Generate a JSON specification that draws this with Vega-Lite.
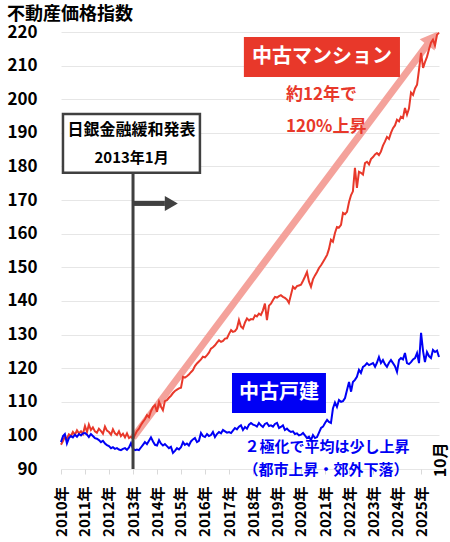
{
  "$schema": "https://vega.github.io/schema/vega-lite/v6.json",
  "width": 378,
  "height": 437,
  "autosize": "none",
  "padding": {"left": 61, "top": 32, "right": 11, "bottom": 73},
  "background": "white",
  "config": {"view": {"stroke": null}, "font": "Noto Sans CJK JP"},
  "title": {"text": "不動産価格指数", "anchor": "start", "frame": "group", "dx": -54, "offset": 0, "dy": 1, "fontSize": 18, "font": "Noto Sans CJK JP", "fontWeight": "bold", "color": "#000000"},
  "data": {"values": [
    {"d":"2010-01","m":97.2,"h":98.0},{"d":"2010-02","m":98.4,"h":99.8},{"d":"2010-03","m":99.6,"h":100.4},{"d":"2010-04","m":99.0,"h":97.6},{"d":"2010-05","m":100.3,"h":99.2},{"d":"2010-06","m":99.8,"h":99.8},{"d":"2010-07","m":101.0,"h":99.4},{"d":"2010-08","m":100.2,"h":100.2},{"d":"2010-09","m":101.5,"h":99.6},{"d":"2010-10","m":100.6,"h":100.4},{"d":"2010-11","m":101.2,"h":100.0},{"d":"2010-12","m":100.4,"h":100.6},
    {"d":"2011-01","m":102.8,"h":100.7},{"d":"2011-02","m":101.0,"h":100.2},{"d":"2011-03","m":103.2,"h":99.5},{"d":"2011-04","m":101.6,"h":100.4},{"d":"2011-05","m":102.4,"h":99.8},{"d":"2011-06","m":101.2,"h":99.2},{"d":"2011-07","m":100.8,"h":99.0},{"d":"2011-08","m":102.0,"h":98.6},{"d":"2011-09","m":101.3,"h":98.0},{"d":"2011-10","m":100.5,"h":98.4},{"d":"2011-11","m":102.6,"h":97.6},{"d":"2011-12","m":101.4,"h":97.1},
    {"d":"2012-01","m":101.0,"h":96.8},{"d":"2012-02","m":100.2,"h":96.2},{"d":"2012-03","m":101.8,"h":96.5},{"d":"2012-04","m":100.6,"h":96.0},{"d":"2012-05","m":100.1,"h":96.2},{"d":"2012-06","m":101.2,"h":95.8},{"d":"2012-07","m":99.8,"h":95.6},{"d":"2012-08","m":100.5,"h":96.0},{"d":"2012-09","m":99.4,"h":96.2},{"d":"2012-10","m":100.6,"h":95.7},{"d":"2012-11","m":99.2,"h":96.4},{"d":"2012-12","m":99.6,"h":97.7},
    {"d":"2013-01","m":99.0,"h":96.0},{"d":"2013-02","m":100.2,"h":95.6},{"d":"2013-03","m":101.3,"h":95.8},{"d":"2013-04","m":102.0,"h":95.6},{"d":"2013-05","m":103.1,"h":96.4},{"d":"2013-06","m":104.0,"h":97.2},{"d":"2013-07","m":104.8,"h":98.0},{"d":"2013-08","m":106.0,"h":97.4},{"d":"2013-09","m":105.4,"h":98.4},{"d":"2013-10","m":107.2,"h":99.4},{"d":"2013-11","m":108.4,"h":98.2},{"d":"2013-12","m":109.0,"h":97.2},
    {"d":"2014-01","m":107.0,"h":97.0},{"d":"2014-02","m":110.0,"h":98.6},{"d":"2014-03","m":108.6,"h":97.6},{"d":"2014-04","m":107.5,"h":97.0},{"d":"2014-05","m":110.2,"h":97.4},{"d":"2014-06","m":110.5,"h":96.8},{"d":"2014-07","m":111.2,"h":96.2},{"d":"2014-08","m":111.8,"h":96.6},{"d":"2014-09","m":112.6,"h":94.8},{"d":"2014-10","m":113.2,"h":95.4},{"d":"2014-11","m":113.6,"h":96.2},{"d":"2014-12","m":114.0,"h":95.8},
    {"d":"2015-01","m":114.2,"h":96.5},{"d":"2015-02","m":117.4,"h":98.0},{"d":"2015-03","m":117.2,"h":97.2},{"d":"2015-04","m":117.6,"h":97.6},{"d":"2015-05","m":118.1,"h":97.0},{"d":"2015-06","m":118.8,"h":98.2},{"d":"2015-07","m":119.4,"h":98.8},{"d":"2015-08","m":120.6,"h":99.2},{"d":"2015-09","m":121.4,"h":98.0},{"d":"2015-10","m":122.0,"h":98.4},{"d":"2015-11","m":122.6,"h":100.7},{"d":"2015-12","m":123.4,"h":99.8},
    {"d":"2016-01","m":123.2,"h":99.5},{"d":"2016-02","m":123.9,"h":100.4},{"d":"2016-03","m":124.6,"h":99.8},{"d":"2016-04","m":125.8,"h":100.1},{"d":"2016-05","m":126.2,"h":101.0},{"d":"2016-06","m":126.8,"h":99.5},{"d":"2016-07","m":127.6,"h":100.4},{"d":"2016-08","m":128.3,"h":101.0},{"d":"2016-09","m":127.8,"h":100.6},{"d":"2016-10","m":128.1,"h":101.6},{"d":"2016-11","m":128.8,"h":101.2},{"d":"2016-12","m":128.9,"h":100.8},
    {"d":"2017-01","m":130.2,"h":101.0},{"d":"2017-02","m":131.3,"h":100.7},{"d":"2017-03","m":130.8,"h":101.4},{"d":"2017-04","m":131.0,"h":102.2},{"d":"2017-05","m":131.8,"h":101.8},{"d":"2017-06","m":134.3,"h":102.6},{"d":"2017-07","m":132.4,"h":103.0},{"d":"2017-08","m":131.8,"h":101.6},{"d":"2017-09","m":133.6,"h":102.5},{"d":"2017-10","m":134.8,"h":102.0},{"d":"2017-11","m":134.2,"h":103.2},{"d":"2017-12","m":134.6,"h":103.7},
    {"d":"2018-01","m":134.5,"h":103.2},{"d":"2018-02","m":135.7,"h":103.0},{"d":"2018-03","m":135.4,"h":102.6},{"d":"2018-04","m":136.2,"h":103.7},{"d":"2018-05","m":135.8,"h":103.0},{"d":"2018-06","m":137.2,"h":102.5},{"d":"2018-07","m":139.2,"h":103.4},{"d":"2018-08","m":134.3,"h":103.7},{"d":"2018-09","m":138.6,"h":102.8},{"d":"2018-10","m":139.2,"h":103.0},{"d":"2018-11","m":140.3,"h":102.6},{"d":"2018-12","m":141.2,"h":103.4},
    {"d":"2019-01","m":141.0,"h":103.7},{"d":"2019-02","m":141.4,"h":102.2},{"d":"2019-03","m":141.7,"h":102.5},{"d":"2019-04","m":141.2,"h":103.0},{"d":"2019-05","m":140.9,"h":101.6},{"d":"2019-06","m":140.4,"h":102.0},{"d":"2019-07","m":139.4,"h":101.4},{"d":"2019-08","m":141.8,"h":101.0},{"d":"2019-09","m":144.2,"h":101.2},{"d":"2019-10","m":143.6,"h":100.4},{"d":"2019-11","m":144.4,"h":100.6},{"d":"2019-12","m":144.6,"h":100.0},
    {"d":"2020-01","m":144.8,"h":100.2},{"d":"2020-02","m":146.0,"h":100.7},{"d":"2020-03","m":147.2,"h":100.0},{"d":"2020-04","m":148.6,"h":99.2},{"d":"2020-05","m":145.8,"h":99.6},{"d":"2020-06","m":144.2,"h":98.6},{"d":"2020-07","m":146.4,"h":100.1},{"d":"2020-08","m":147.6,"h":99.2},{"d":"2020-09","m":148.6,"h":99.5},{"d":"2020-10","m":149.8,"h":100.8},{"d":"2020-11","m":150.6,"h":102.2},{"d":"2020-12","m":151.6,"h":102.6},
    {"d":"2021-01","m":152.6,"h":103.7},{"d":"2021-02","m":153.7,"h":104.6},{"d":"2021-03","m":155.4,"h":104.0},{"d":"2021-04","m":158.2,"h":103.7},{"d":"2021-05","m":157.6,"h":108.0},{"d":"2021-06","m":160.2,"h":109.8},{"d":"2021-07","m":162.0,"h":108.5},{"d":"2021-08","m":161.8,"h":110.5},{"d":"2021-09","m":162.6,"h":110.0},{"d":"2021-10","m":166.2,"h":110.2},{"d":"2021-11","m":165.8,"h":111.1},{"d":"2021-12","m":166.5,"h":113.5},
    {"d":"2022-01","m":169.4,"h":115.9},{"d":"2022-02","m":171.5,"h":113.0},{"d":"2022-03","m":172.6,"h":115.9},{"d":"2022-04","m":179.6,"h":116.5},{"d":"2022-05","m":173.6,"h":117.4},{"d":"2022-06","m":178.4,"h":119.5},{"d":"2022-07","m":178.1,"h":118.6},{"d":"2022-08","m":177.6,"h":120.4},{"d":"2022-09","m":181.0,"h":120.8},{"d":"2022-10","m":181.4,"h":121.5},{"d":"2022-11","m":180.6,"h":120.9},{"d":"2022-12","m":182.2,"h":121.2},
    {"d":"2023-01","m":182.8,"h":121.5},{"d":"2023-02","m":183.6,"h":120.4},{"d":"2023-03","m":184.0,"h":121.6},{"d":"2023-04","m":183.4,"h":123.3},{"d":"2023-05","m":184.4,"h":121.5},{"d":"2023-06","m":186.2,"h":122.4},{"d":"2023-07","m":187.4,"h":121.2},{"d":"2023-08","m":188.8,"h":120.4},{"d":"2023-09","m":188.2,"h":121.6},{"d":"2023-10","m":190.0,"h":122.4},{"d":"2023-11","m":191.4,"h":121.5},{"d":"2023-12","m":192.2,"h":120.6},
    {"d":"2024-01","m":193.9,"h":118.9},{"d":"2024-02","m":193.4,"h":122.4},{"d":"2024-03","m":194.8,"h":123.0},{"d":"2024-04","m":194.4,"h":122.6},{"d":"2024-05","m":197.4,"h":124.5},{"d":"2024-06","m":195.4,"h":121.5},{"d":"2024-07","m":197.2,"h":121.2},{"d":"2024-08","m":202.0,"h":121.8},{"d":"2024-09","m":201.3,"h":122.6},{"d":"2024-10","m":203.2,"h":123.0},{"d":"2024-11","m":204.3,"h":124.5},{"d":"2024-12","m":208.8,"h":121.5},
    {"d":"2025-01","m":213.8,"h":130.5},{"d":"2025-02","m":209.3,"h":125.0},{"d":"2025-03","m":211.0,"h":121.8},{"d":"2025-04","m":212.6,"h":124.8},{"d":"2025-05","m":214.8,"h":123.6},{"d":"2025-06","m":216.8,"h":123.0},{"d":"2025-07","m":217.7,"h":125.4},{"d":"2025-08","m":216.0,"h":124.8},{"d":"2025-09","m":219.2,"h":125.2},{"d":"2025-10","m":219.8,"h":123.3}
  ]},
  "encoding": {
    "x": {
      "field": "d", "type": "temporal",
      "scale": {"type": "utc", "domain": [{"year": 2010, "month": 1, "date": 1, "utc": true}, {"year": 2025, "month": 10, "date": 1, "utc": true}]},
      "axis": {
        "title": null, "tickCount": {"interval": "year", "step": 1},
        "labelExpr": "utcFormat(datum.value, '%Y') + '年'",
        "labelAngle": 270, "labelFontSize": 15, "labelFontWeight": "bold", "labelColor": "#000000",
        "labelFont": "Noto Sans CJK JP", "labelPadding": 12, "tickSize": 5, "tickColor": "#D9D9D9",
        "domain": false, "grid": false, "labelOverlap": false, "labelFlush": false
      }
    },
    "y": {
      "field": "v", "type": "quantitative",
      "scale": {"domain": [90, 220], "nice": false, "zero": false},
      "axis": {"title": null, "values": [90,100,110,120,130,140,150,160,170,180,190,200,210,220], "domain": false, "ticks": false,
        "labelOverlap": false, "labelFlush": false, "labelSeparation": 0,
        "labelFontSize": 17, "labelFontWeight": "bold", "labelColor": "#000000", "labelFont": "Noto Sans CJK JP", "labelPadding": 24,
        "gridColor": "#E6E6E6", "gridWidth": 1}
    }
  },
  "layer": [
    {
      "data": {"values": [{"d": "2013-01-01", "v": 99.3}, {"d": "2025-06-17", "v": 218.1}]},
      "mark": {"type": "line", "color": "#F4A29B", "strokeWidth": 7, "strokeCap": "butt"}
    },
    {
      "data": {"values": [{"d": "2025-06-17", "v": 218.1}]},
      "mark": {"type": "point", "shape": "triangle-up", "angle": 37, "size": 350, "filled": true, "opacity": 1, "color": "#F4A29B"}
    },
    {
      "transform": [{"fold": ["m", "h"], "as": ["s", "v"]}],
      "mark": {"type": "line", "strokeWidth": 2},
      "encoding": {"color": {"field": "s", "type": "nominal", "scale": {"domain": ["m", "h"], "range": ["#E8382A", "#0000F5"]}, "legend": null}}
    },
    {
      "data": {"values": [{"d": "2010-01-31", "d2": "2015-10-16", "v": 195.6, "v2": 178.1}]},
      "mark": {"type": "rect", "fill": "white", "stroke": "#404040", "strokeWidth": 2.5},
      "encoding": {"x2": {"field": "d2"}, "y2": {"field": "v2"}}
    },
    {
      "data": {"values": [{"d": "2013-01-01", "v": 90, "v2": 178.1}]},
      "mark": {"type": "rule", "color": "#404040", "strokeWidth": 3},
      "encoding": {"y2": {"field": "v2"}}
    },
    {
      "data": {"values": [{"d": "2013-01-01", "d2": "2014-05-01", "v": 169.0}]},
      "mark": {"type": "rule", "color": "#404040", "strokeWidth": 5},
      "encoding": {"x2": {"field": "d2"}}
    },
    {
      "data": {"values": [{"d": "2014-08-07", "v": 169.0}]},
      "mark": {"type": "point", "shape": "triangle-right", "size": 225, "filled": true, "opacity": 1, "color": "#404040"}
    },
    {
      "data": {"values": [{"d": "2017-08-15", "d2": "2024-02-15", "v": 218.5, "v2": 206.6}]},
      "mark": {"type": "rect", "fill": "#E8382A"},
      "encoding": {"x2": {"field": "d2"}, "y2": {"field": "v2"}}
    },
    {
      "data": {"values": [{"d": "2017-02-15", "d2": "2021-01-15", "v": 118.56, "v2": 106.66}]},
      "mark": {"type": "rect", "fill": "#0000F5"},
      "encoding": {"x2": {"field": "d2"}, "y2": {"field": "v2"}}
    },
    {
      "data": {"values": [{"d": "2012-12-10", "v": 190.85, "t": "日銀金融緩和発表"}]},
      "mark": {"type": "text", "fontSize": 16, "fontWeight": "bold", "color": "#000000", "baseline": "middle", "align": "center"},
      "encoding": {"text": {"field": "t"}}
    },
    {
      "data": {"values": [{"d": "2012-12-10", "v": 182.5, "t": "2013年1月"}]},
      "mark": {"type": "text", "fontSize": 15, "fontWeight": "bold", "color": "#000000", "baseline": "middle", "align": "center"},
      "encoding": {"text": {"field": "t"}}
    },
    {
      "data": {"values": [{"d": "2020-11-15", "v": 212.6, "t": "中古マンション"}]},
      "mark": {"type": "text", "fontSize": 20, "fontWeight": "bold", "color": "#FFFFFF", "baseline": "middle", "align": "center"},
      "encoding": {"text": {"field": "t"}}
    },
    {
      "data": {"values": [{"d": "2019-05-17", "v": 201.3, "t": "約12年で"}, {"d": "2019-05-17", "v": 191.7, "t": "120%上昇"}]},
      "mark": {"type": "text", "fontSize": 17, "fontWeight": "bold", "color": "#E8382A", "baseline": "middle", "align": "left"},
      "encoding": {"text": {"field": "t"}}
    },
    {
      "data": {"values": [{"d": "2019-01-30", "v": 112.6, "t": "中古戸建"}]},
      "mark": {"type": "text", "fontSize": 20, "fontWeight": "bold", "color": "#FFFFFF", "baseline": "middle", "align": "center"},
      "encoding": {"text": {"field": "t"}}
    },
    {
      "data": {"values": [{"d": "2021-01-30", "v": 96.5, "t": "２極化で平均は少し上昇"}, {"d": "2021-01-15", "v": 89.7, "t": "（都市上昇・郊外下落）"}]},
      "mark": {"type": "text", "fontSize": 15, "fontWeight": "bold", "color": "#0000F5", "baseline": "middle", "align": "center"},
      "encoding": {"text": {"field": "t"}}
    },
    {
      "data": {"values": [{"d": "2025-10-31", "v": 92.7, "t": "10月"}]},
      "mark": {"type": "text", "fontSize": 16, "fontWeight": "bold", "color": "#000000", "baseline": "middle", "align": "center", "angle": 270},
      "encoding": {"text": {"field": "t"}}
    }
  ]
}
